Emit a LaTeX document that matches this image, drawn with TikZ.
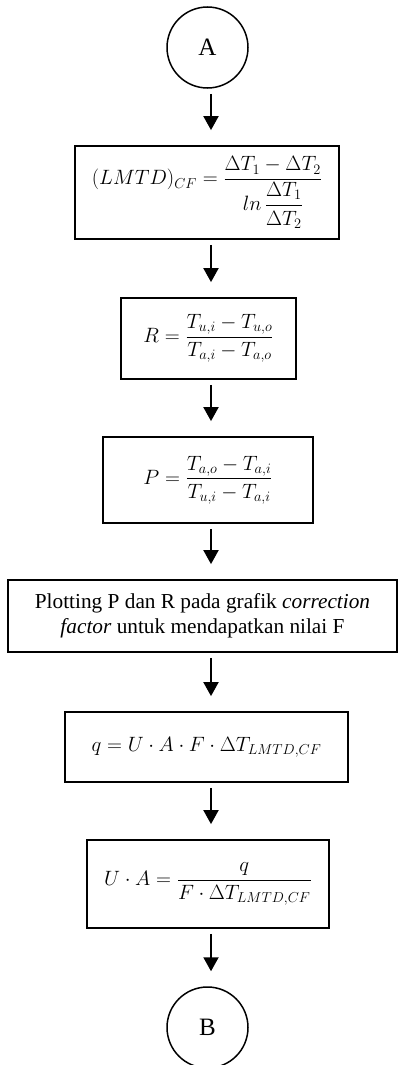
\documentclass[tikz,border=0pt]{standalone}
\usepackage{amsmath}
\usepackage{fontspec}
\setmainfont{Liberation Serif}
\usetikzlibrary{arrows.meta}
\begin{document}
\begin{tikzpicture}[x=1pt,y=-1pt,
  box/.style={draw, line width=1.8pt, inner sep=0pt, align=center, font=\fontsize{20.5}{25}\selectfont},
  textbox/.style={box, font=\fontsize{21.3}{25}\selectfont},
  conn/.style={draw, line width=1.5pt, inner sep=0pt, circle, minimum size=81pt, font=\fontsize{25}{30}\selectfont},
  arr/.style={line width=2pt, -{Triangle[length=14pt,width=15pt]}, shorten <=5pt, shorten >=15pt}]
\useasboundingbox (0,0) rectangle (398,1065);
\coordinate (ax) at (211,0);
\node[conn] (A) at (207.5,47.5) {A};
\node[box, minimum width=264pt, minimum height=93pt] (b1) at (207,192.5)
  {$\displaystyle (LMTD)_{CF}=\frac{\Delta T_1-\Delta T_2}{ln\,\dfrac{\Delta T_1}{\Delta T_2}}$};
\node[box, minimum width=175pt, minimum height=81pt] (bR) at (208.5,338.5)
  {$\displaystyle R=\frac{T_{u,i}-T_{u,o}}{T_{a,i}-T_{a,o}}$};
\node[box, minimum width=210pt, minimum height=86pt] (bP) at (208,480)
  {$\displaystyle P=\frac{T_{a,o}-T_{a,i}}{T_{u,i}-T_{a,i}}$};
\node[textbox, minimum width=389pt, minimum height=72pt] (bF) at (202.5,616)
  {Plotting P dan R pada grafik \textit{correction}\\\textit{factor} untuk mendapatkan nilai F};
\node[box, minimum width=283pt, minimum height=70pt] (bq) at (206.5,747)
  {$q=U\cdot A\cdot F\cdot \Delta T_{LMTD,CF}$};
\node[box, minimum width=242pt, minimum height=88pt] (bU) at (208,884)
  {$\displaystyle U\cdot A=\frac{q}{F\cdot \Delta T_{LMTD,CF}}$};
\node[conn] (B) at (207.5,1027.5) {B};
\draw[arr] (A.south -| ax) -- (b1.north -| ax);
\draw[arr] (b1.south -| ax) -- (bR.north -| ax);
\draw[arr] (bR.south -| ax) -- (bP.north -| ax);
\draw[arr] (bP.south -| ax) -- (bF.north -| ax);
\draw[arr] (bF.south -| ax) -- (bq.north -| ax);
\draw[arr] (bq.south -| ax) -- (bU.north -| ax);
\draw[arr] (bU.south -| ax) -- (B.north -| ax);
\end{tikzpicture}
\end{document}
